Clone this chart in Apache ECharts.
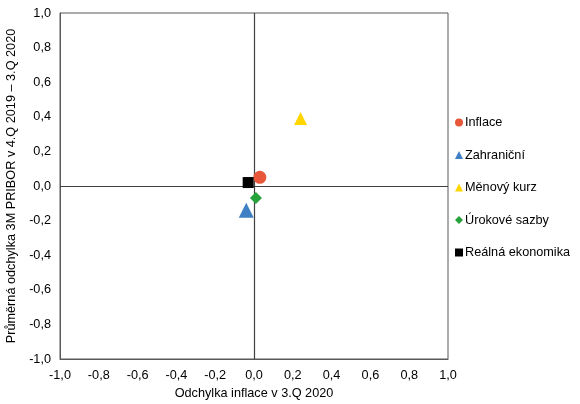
<!DOCTYPE html>
<html>
<head>
<meta charset="utf-8">
<script src="https://cdn.jsdelivr.net/npm/echarts@6/dist/echarts.min.js"></script>
<style>
html,body{margin:0;padding:0;background:#fff;}
#chart{width:580px;height:404px;}
</style>
</head>
<body>
<div id="chart"></div>
<script>
// jeden bod na rad: [odchylka inflace, odchylka PRIBOR]
var names=['Inflace','Zahraniční','Měnový kurz','Úrokové sazby','Reálná ekonomika'];
var inflace=[[0.03,0.05]];
var zahranici=[[-0.04,-0.14]];
var menovyKurz=[[0.24,0.39]];
var urokoveSazby=[[0.01,-0.07]];
var realnaEkonomika=[[-0.03,0.02]];
var colors=['#e9573b','#3f80c4','#ffd600','#25a23a','#000000'];
var symbols=['circle','triangle','triangle','diamond','rect'];
var sizes=[13,15,13,12,11];
var axisMin=-1, axisMax=1, axisStep=0.2;

var font='"Liberation Sans", Arial, sans-serif';
var fs=12.7;
function fmt(v){return v.toFixed(1).replace('.',',');}

var seriesData=[inflace,zahranici,menovyKurz,urokoveSazby,realnaEkonomika];
var series=[];
for (var i=0;i<names.length;i++){
    series.push({
        name:names[i],
        type:'scatter',
        data:seriesData[i],
        symbol:symbols[i],
        symbolSize:sizes[i],
        itemStyle:{color:colors[i],opacity:1},
        z:3
    });
}
// osy v nule
series[0].markLine={
    silent:true,
    symbol:['none','none'],
    label:{show:false},
    lineStyle:{color:'#404040',width:1.2,type:'solid'},
    data:[{xAxis:0},{yAxis:0}],
    z:1
};

var option={
    animation:false,
    textStyle:{fontFamily:font},
    grid:{left:60,top:13,width:388,height:346,containLabel:false,outerBoundsMode:'none',
        show:true,borderColor:'#595959',borderWidth:1},
    legend:{
        orient:'vertical',
        left:450,
        top:111,
        itemWidth:8,
        itemHeight:8,
        itemGap:19.5,
        textStyle:{fontFamily:font,fontSize:fs,color:'#000',padding:[0,0,0,-3]},
        data:names
    },
    xAxis:{
        type:'value',min:axisMin,max:axisMax,interval:axisStep,
        name:'Odchylka inflace v 3.Q 2020',nameLocation:'middle',nameGap:28,
        nameTextStyle:{fontFamily:font,fontSize:fs,color:'#000'},
        axisLine:{onZero:false,lineStyle:{color:'#595959'}},
        axisTick:{show:false},
        splitLine:{show:false},
        axisLabel:{formatter:fmt,fontFamily:font,fontSize:fs,color:'#000',margin:10}
    },
    yAxis:{
        type:'value',min:axisMin,max:axisMax,interval:axisStep,
        name:'Průměrná odchylka 3M PRIBOR v 4.Q 2019 – 3.Q 2020',nameLocation:'middle',nameGap:34,
        nameTextStyle:{fontFamily:font,fontSize:fs,color:'#000'},
        axisLine:{onZero:false,lineStyle:{color:'#595959'}},
        axisTick:{show:false},
        splitLine:{show:false},
        axisLabel:{formatter:fmt,fontFamily:font,fontSize:fs,color:'#000',margin:9}
    },
    series:series
};
var myChart=echarts.init(document.getElementById('chart'));
myChart.setOption(option);
</script>
</body>
</html>
